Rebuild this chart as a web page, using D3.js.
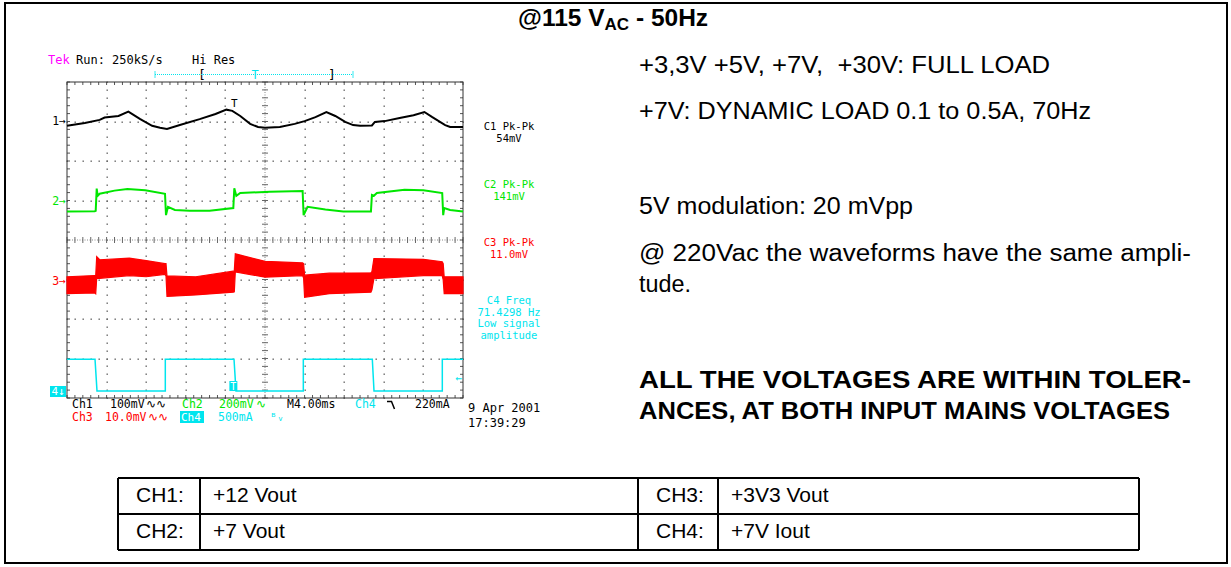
<!DOCTYPE html>
<html>
<head>
<meta charset="utf-8">
<script src="https://cdn.jsdelivr.net/npm/d3@7"></script>
<style>
  body { margin: 0; background: #fff; }
  svg { display: block; }
</style>
</head>
<body>
<svg id="page" width="1231" height="567"></svg>
<script>
// time in ms (M4.00ms/div, 10 div), level in screen divisions from centre
const ch1 = [[0,2.89],[1.8,2.96],[3.3,3.04],[3.8,3.10],[5.2,3.14],[6.2,3.25],[7.4,3.06],[8.6,2.89],[9.4,2.84],[10.1,2.81],
  [11.4,2.91],[13.4,3.06],[15.0,3.19],[16.1,3.30],[16.7,3.27],[17.5,3.14],[18.5,2.94],[19.3,2.86],[20.0,2.84],[21.5,2.86],
  [23.0,2.94],[24.0,3.01],[25.1,3.11],[26.2,3.24],[27.1,3.14],[28.1,2.99],[28.9,2.91],[29.6,2.89],[30.8,2.90],[31.1,2.99],
  [32.1,3.01],[33.6,3.09],[35.0,3.16],[36.1,3.24],[36.9,3.11],[38.2,2.91],[38.7,2.86],[40,2.86]];

const ch2 = [[0,0.72],[2.8,0.73],[2.9,0.74],[3.0,1.30],[3.1,1.12],[3.3,1.17],[4.8,1.25],[6.1,1.29],[7.9,1.26],[9.9,1.17],
  [10.0,0.63],[10.2,0.84],[10.9,0.76],[12.4,0.74],[14.4,0.74],[16.8,0.81],[16.9,1.31],[17.1,1.12],[17.5,1.19],[20.5,1.22],
  [23.8,1.24],[23.9,0.63],[24.3,0.84],[26.1,0.77],[27.9,0.72],[30.7,0.72],[30.8,1.14],[31.0,1.12],[31.3,1.19],[34.1,1.27],
  [36.0,1.26],[37.9,1.19],[38.0,0.63],[38.1,0.81],[38.7,0.76],[40,0.72]];

// ch3 is a noisy band: [ms, top, bottom]
const ch3 = [[0,-0.93,-1.36],[2.8,-0.90,-1.34],[2.9,-0.90,-1.36],[3.0,-0.42,-0.97],[3.3,-0.50,-0.97],[6.3,-0.46,-0.90],
  [8.0,-0.52,-0.93],[9.9,-0.60,-0.87],[10.0,-0.60,-0.91],[10.1,-0.91,-1.43],[13.0,-0.93,-1.39],[16.8,-0.79,-1.32],
  [16.9,-0.78,-1.31],[17.0,-0.35,-0.81],[20.0,-0.54,-0.94],[23.8,-0.58,-0.90],[23.9,-0.60,-0.96],[24.0,-0.89,-1.45],
  [26.5,-0.84,-1.36],[30.7,-0.83,-1.32],[30.8,-0.80,-1.26],[31.0,-0.47,-0.98],[36.0,-0.49,-0.90],[37.9,-0.55,-0.90],
  [38.0,-0.60,-1.01],[38.1,-0.93,-1.36],[40,-0.93,-1.36]];

const ch4 = [[0,-3.02],[2.83,-3.02],[3.03,-3.82],[9.93,-3.82],[9.93,-3.02],[16.87,-3.02],[17.07,-3.82],[23.87,-3.82],
  [23.87,-3.02],[30.84,-3.02],[31.01,-3.82],[37.91,-3.82],[37.91,-3.02],[40,-3.02]];

const chColors = ["#000000", "#00e600", "#ff0000", "#00e5ee"];
const chMarkers = [3.01, 0.99, -1.04];

const readouts = [
  { lines: ["C1 Pk-Pk", "54mV"], color: 0, at: 2.78 },
  { lines: ["C2 Pk-Pk", "141mV"], color: 1, at: 1.31 },
  { lines: ["C3 Pk-Pk", "11.0mV"], color: 2, at: -0.16 },
  { lines: ["C4 Freq", "71.4298 Hz", "Low signal", "amplitude"], color: 3, at: -1.63 }
];

const notes = [
  { text: "+3,3V +5V, +7V,  +30V: FULL LOAD", y: 73, w: 411 },
  { text: "+7V: DYNAMIC LOAD 0.1 to 0.5A, 70Hz", y: 119, w: 452 },
  { text: "5V modulation: 20 mVpp", y: 214, w: 274 },
  { text: "@ 220Vac the waveforms have the same ampli-", y: 261, w: 552 },
  { text: "tude.", y: 292, w: 52 },
  { text: "ALL THE VOLTAGES ARE WITHIN TOLER-", y: 388, w: 552, bold: true },
  { text: "ANCES, AT BOTH INPUT MAINS VOLTAGES", y: 419, w: 531, bold: true }
];

const tableRows = [
  ["CH1:", "+12 Vout", "CH3:", "+3V3 Vout"],
  ["CH2:", "+7 Vout", "CH4:", "+7V Iout"]
];

const svg = d3.select("#page");
const mono = "'DejaVu Sans Mono', monospace";
const sans = "'Liberation Sans', Arial, sans-serif";

// page frame
svg.append("rect").attr("x", 5).attr("y", 3).attr("width", 1222).attr("height", 560)
  .attr("fill", "#fff").attr("stroke", "#000").attr("stroke-width", 2);

// title
const title = svg.append("text").attr("x", 518).attr("y", 26)
  .attr("font-family", sans).attr("font-weight", "bold").attr("font-size", 24.5);
title.append("tspan").text("@115 V");
title.append("tspan").attr("font-size", 17).attr("dy", 4).text("AC");
title.append("tspan").attr("dy", -4).text(" - 50Hz");

// scope screen
const x = d3.scaleLinear().domain([0, 40]).range([67, 463]);
const y = d3.scaleLinear().domain([-4, 4]).range([398, 82]);
const scope = svg.append("g");

const minorX = d3.range(0, 40.01, 0.8);
const minorY = d3.range(-4, 4.01, 0.2);
const divX = d3.range(4, 40, 4).filter(d => d !== 20);
const divY = d3.range(-3, 4, 1).filter(d => d !== 0);

// dotted graticule
const dots = [];
divX.forEach(t => minorY.forEach(v => dots.push([t, v])));
divY.forEach(v => minorX.forEach(t => dots.push([t, v])));
scope.selectAll("rect.dot").data(dots).join("rect").attr("class", "dot")
  .attr("x", d => Math.round(x(d[0])) - 0.5).attr("y", d => Math.round(y(d[1])) - 0.5)
  .attr("width", 1.4).attr("height", 1.4).attr("fill", "#666");

// centre lines
scope.append("line").attr("x1", x(20)).attr("x2", x(20)).attr("y1", y(4)).attr("y2", y(-4))
  .attr("stroke", "#888").attr("stroke-dasharray", "1,1.5");
scope.append("line").attr("x1", x(0)).attr("x2", x(40)).attr("y1", y(0)).attr("y2", y(0))
  .attr("stroke", "#888").attr("stroke-dasharray", "1,1.5");
scope.selectAll("line.tx").data(minorX).join("line").attr("class", "tx")
  .attr("x1", d => x(d)).attr("x2", d => x(d)).attr("y1", y(0) - 3).attr("y2", y(0) + 3)
  .attr("stroke", "#666");
scope.selectAll("line.ty").data(minorY).join("line").attr("class", "ty")
  .attr("y1", d => y(d)).attr("y2", d => y(d)).attr("x1", x(20) - 3).attr("x2", x(20) + 3)
  .attr("stroke", "#666");

// edge ticks
scope.selectAll("line.et").data(minorX).join("line").attr("class", "et")
  .attr("x1", d => x(d)).attr("x2", d => x(d)).attr("y1", y(4)).attr("y2", y(4) + 3).attr("stroke", "#555");
scope.selectAll("line.eb").data(minorX).join("line").attr("class", "eb")
  .attr("x1", d => x(d)).attr("x2", d => x(d)).attr("y1", y(-4)).attr("y2", y(-4) - 3).attr("stroke", "#555");
scope.selectAll("line.el").data(minorY).join("line").attr("class", "el")
  .attr("y1", d => y(d)).attr("y2", d => y(d)).attr("x1", x(0)).attr("x2", x(0) + 3).attr("stroke", "#555");
scope.selectAll("line.er").data(minorY).join("line").attr("class", "er")
  .attr("y1", d => y(d)).attr("y2", d => y(d)).attr("x1", x(40)).attr("x2", x(40) - 3).attr("stroke", "#555");
scope.append("rect").attr("x", x(0)).attr("y", y(4)).attr("width", x(40) - x(0)).attr("height", y(-4) - y(4))
  .attr("fill", "none").attr("stroke", "#333").attr("stroke-width", 1);

// traces
const line = d3.line().x(d => x(d[0])).y(d => y(d[1]));
const area = d3.area().x(d => x(d[0])).y0(d => y(d[2])).y1(d => y(d[1]));
scope.append("path").datum(ch3).attr("d", area).attr("fill", chColors[2])
  .attr("stroke", chColors[2]).attr("stroke-width", 1.2);
scope.append("path").datum(ch4).attr("d", line).attr("fill", "none")
  .attr("stroke", chColors[3]).attr("stroke-width", 1.5);
scope.append("path").datum(ch2).attr("d", line).attr("fill", "none")
  .attr("stroke", chColors[1]).attr("stroke-width", 2);
scope.append("path").datum(ch1).attr("d", line).attr("fill", "none")
  .attr("stroke", chColors[0]).attr("stroke-width", 2);

// trigger marks on traces
scope.append("text").attr("x", x(16.9)).attr("y", y(3.36)).attr("font-family", mono).attr("font-size", 11)
  .attr("text-anchor", "middle").text("T");
scope.append("rect").attr("x", x(16.4)).attr("y", y(-3.57)).attr("width", 8).attr("height", 10).attr("fill", chColors[3]);
scope.append("text").attr("x", x(16.4) + 4).attr("y", y(-3.57) + 9).attr("font-family", mono).attr("font-size", 10)
  .attr("fill", "#fff").attr("text-anchor", "middle").text("T");
scope.append("text").attr("x", x(40) - 1).attr("y", y(-3.6)).attr("font-family", mono).attr("font-size", 11)
  .attr("fill", chColors[3]).attr("text-anchor", "end").text("←");

// channel ground markers
scope.selectAll("text.mk").data(chMarkers).join("text").attr("class", "mk")
  .attr("x", x(0) - 1).attr("y", d => y(d) + 4).attr("text-anchor", "end")
  .attr("font-family", mono).attr("font-size", 11.5).attr("fill", (d, i) => chColors[i])
  .text((d, i) => (i + 1) + "→");
scope.append("rect").attr("x", 50).attr("y", 386).attr("width", 16).attr("height", 11).attr("fill", chColors[3]);
scope.append("text").attr("x", 58).attr("y", 395).attr("text-anchor", "middle").attr("font-family", mono)
  .attr("font-size", 11).attr("fill", "#fff").text("4↓");

// header of the screen
const hdr = svg.append("g").attr("font-family", mono).attr("font-size", 12);
hdr.append("text").attr("x", 48).attr("y", 64).attr("fill", "#ff00ff").text("Tek");
hdr.append("text").attr("x", 76).attr("y", 64).text("Run: 250kS/s");
hdr.append("text").attr("x", 192).attr("y", 64).text("Hi Res");
svg.append("line").attr("x1", 155).attr("x2", 353).attr("y1", 74.5).attr("y2", 74.5)
  .attr("stroke", chColors[3]).attr("stroke-dasharray", "1,1");
[155, 353].forEach(p => svg.append("line").attr("x1", p).attr("x2", p).attr("y1", 71).attr("y2", 78).attr("stroke", chColors[3]).attr("stroke-width", 0.8));
hdr.append("text").attr("x", 198).attr("y", 79).attr("font-size", 13).text("[");
hdr.append("text").attr("x", 328).attr("y", 79).attr("font-size", 13).text("]");
hdr.append("text").attr("x", 255).attr("y", 79).attr("text-anchor", "middle").attr("fill", chColors[3]).text("T");

// measurement readouts
readouts.forEach(r => {
  svg.append("g").selectAll("text").data(r.lines).join("text")
    .attr("x", 509).attr("y", (d, i) => y(r.at) + i * 11.5).attr("text-anchor", "middle")
    .attr("font-family", mono).attr("font-size", 10.5).attr("fill", chColors[r.color])
    .text(d => d);
});

// status line under the screen
const st = svg.append("g").attr("font-family", mono).attr("font-size", 11.5);
const status = [
  ["Ch1", 72, 408, 0], ["100mV", 110, 408, 0], ["∿∿", 146, 408, 0],
  ["Ch2", 182, 408, 1], ["200mV", 219, 408, 1], ["∿", 256, 408, 1],
  ["M4.00ms", 287, 408, 0], ["Ch4", 355, 408, 3], ["220mA", 415, 408, 0],
  ["Ch3", 72, 421, 2], ["10.0mV", 105, 421, 2], ["∿∿", 148, 421, 2],
  ["500mA", 218, 421, 3], ["ᴮᵥ", 270, 421, 3]
];
st.selectAll("text").data(status).join("text")
  .attr("x", d => d[1]).attr("y", d => d[2]).attr("fill", d => chColors[d[3]]).text(d => d[0]);
st.append("path").attr("d", "M387,401.5H391.5L394.5,409").attr("fill", "none").attr("stroke", "#000").attr("stroke-width", 1.5);
st.append("rect").attr("x", 180).attr("y", 411).attr("width", 24).attr("height", 12).attr("fill", chColors[3]);
st.append("text").attr("x", 181).attr("y", 421).attr("fill", "#fff").attr("font-size", 11).text("Ch4");
st.append("text").attr("x", 468).attr("y", 412).attr("font-size", 12).text("9 Apr 2001");
st.append("text").attr("x", 468).attr("y", 427).attr("font-size", 12).text("17:39:29");

// notes on the right
svg.append("g").selectAll("text").data(notes).join("text")
  .attr("x", 639).attr("y", d => d.y)
  .attr("font-family", sans).attr("font-size", 23)
  .attr("font-weight", d => d.bold ? "bold" : "normal")
  .attr("textLength", d => d.w).attr("lengthAdjust", "spacingAndGlyphs")
  .style("white-space", "pre").text(d => d.text);

// channel table
const colX = [118, 200, 638, 718, 1139];
const rowY = [478, 514, 550];
const tb = svg.append("g");
tb.selectAll("line.h").data(rowY).join("line").attr("class", "h")
  .attr("x1", colX[0]).attr("x2", colX[4]).attr("y1", d => d).attr("y2", d => d)
  .attr("stroke", "#000").attr("stroke-width", 2);
tb.selectAll("line.v").data(colX).join("line").attr("class", "v")
  .attr("y1", rowY[0]).attr("y2", rowY[2]).attr("x1", d => d).attr("x2", d => d)
  .attr("stroke", "#000").attr("stroke-width", 2);
tableRows.forEach((row, r) => {
  tb.selectAll(null).data(row).join("text")
    .attr("x", (d, i) => colX[i] + (i % 2 ? 13 : 18))
    .attr("y", rowY[r] + 24)
    .attr("font-family", sans).attr("font-size", 21).text(d => d);
});
</script>
</body>
</html>
